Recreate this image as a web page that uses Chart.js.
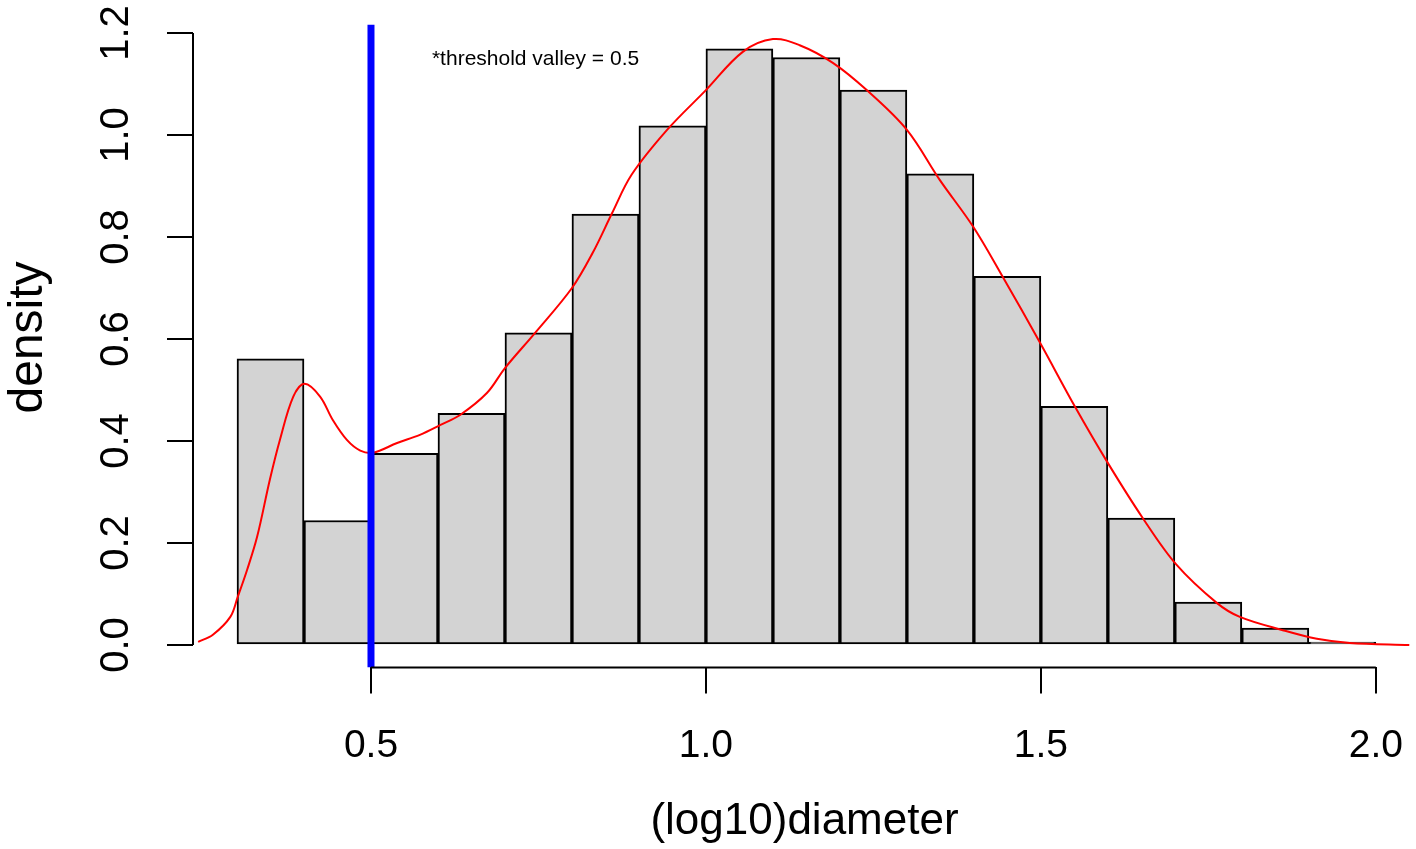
<!DOCTYPE html>
<html>
<head>
<meta charset="utf-8">
<script src="https://cdn.jsdelivr.net/npm/chart.js@4/dist/chart.umd.min.js"></script>
<style>
  html, body { margin: 0; padding: 0; background: #fff; }
  #wrap { width: 1416px; height: 849px; }
</style>
</head>
<body>
<div id="wrap"><canvas id="histChart"></canvas></div>
<script>
// Histogram bins (mid points, width 0.1) and their density
const binMids   = [0.35, 0.45, 0.55, 0.65, 0.75, 0.85, 0.95, 1.05, 1.15, 1.25, 1.35, 1.45, 1.55, 1.65, 1.75, 1.85, 1.95];
const densities = [0.561, 0.244, 0.376, 0.454, 0.612, 0.845, 1.018, 1.169, 1.152, 1.088, 0.924, 0.723, 0.468, 0.249, 0.084, 0.033, 0.004];

// Kernel density curve
const kdeX = [0.242, 0.264, 0.290, 0.301, 0.315, 0.330, 0.349, 0.364, 0.384, 0.401, 0.424, 0.443, 0.464, 0.484, 0.503,
              0.539, 0.573, 0.603, 0.633, 0.673, 0.700, 0.745, 0.800, 0.831, 0.860, 0.889, 0.942, 1.000, 1.055, 1.100,
              1.140, 1.190, 1.240, 1.300, 1.349, 1.399, 1.443, 1.499, 1.551, 1.599, 1.652, 1.702, 1.763, 1.797, 1.861,
              1.912, 1.961, 2.050];
const kdeY = [0.006, 0.020, 0.055, 0.094, 0.147, 0.212, 0.324, 0.402, 0.487, 0.512, 0.487, 0.441, 0.402, 0.381, 0.377,
              0.396, 0.412, 0.431, 0.451, 0.494, 0.543, 0.612, 0.700, 0.769, 0.847, 0.922, 1.010, 1.088, 1.163, 1.188,
              1.176, 1.141, 1.088, 1.010, 0.912, 0.820, 0.722, 0.592, 0.467, 0.359, 0.249, 0.158, 0.082, 0.055, 0.029,
              0.012, 0.004, 0.000];

// Threshold marker
const thresholdX   = 0.5;
const thresholdY   = [-0.044, 1.216];
const thresholdTxt = '*threshold valley = 0.5';

// Tick labels
const xTicks = [0.5, 1.0, 1.5, 2.0];
const yTicks = [0.0, 0.2, 0.4, 0.6, 0.8, 1.0, 1.2];

const fontFamily = '"Liberation Sans", Arial, Helvetica, sans-serif';

// R-style detached axis lines + the note text
const rAxes = {
    id: 'rAxes',
    afterDraw(chart) {
        const { ctx, chartArea, scales: { x, y } } = chart;
        ctx.save();
        ctx.strokeStyle = '#000';
        ctx.lineWidth = 2;
        ctx.beginPath();
        ctx.moveTo(chartArea.left, y.getPixelForValue(yTicks[0]));
        ctx.lineTo(chartArea.left, y.getPixelForValue(yTicks[yTicks.length - 1]));
        ctx.moveTo(x.getPixelForValue(xTicks[0]), chartArea.bottom);
        ctx.lineTo(x.getPixelForValue(xTicks[xTicks.length - 1]), chartArea.bottom);
        ctx.stroke();

        ctx.fillStyle = '#000';
        ctx.font = '21px ' + fontFamily;
        ctx.textAlign = 'left';
        ctx.textBaseline = 'middle';
        ctx.fillText(thresholdTxt, x.getPixelForValue(0.591), y.getPixelForValue(1.149));
        ctx.restore();
    }
};

new Chart(document.getElementById('histChart'), {
    type: 'bar',
    data: {
        datasets: [
            {
                type: 'line',
                label: 'threshold',
                data: thresholdY.map(v => ({ x: thresholdX, y: v })),
                borderColor: '#0000FF',
                borderWidth: 7,
                pointRadius: 0,
                order: 0
            },
            {
                type: 'line',
                label: 'density curve',
                data: kdeX.map((v, i) => ({ x: v, y: kdeY[i] })),
                borderColor: '#FF0000',
                borderWidth: 2,
                pointRadius: 0,
                tension: 0.35,
                order: 1
            },
            {
                label: 'histogram',
                data: binMids.map((v, i) => ({ x: v, y: densities[i] })),
                backgroundColor: '#D3D3D3',
                borderColor: '#000',
                borderWidth: 2,
                borderSkipped: false,
                minBarLength: 3,
                barPercentage: 1,
                categoryPercentage: 1,
                order: 2
            }
        ]
    },
    options: {
        responsive: true,
        maintainAspectRatio: false,
        animation: false,
        layout: { padding: { top: 7.5, right: 0, bottom: 0, left: 0 } },
        plugins: {
            legend: { display: false },
            tooltip: { enabled: false }
        },
        scales: {
            x: {
                type: 'linear',
                min: 0.2343,
                max: 2.06,
                offset: false,
                afterFit: s => { s.height = 181.6; s.paddingLeft = 0; s.paddingRight = 0; },
                afterBuildTicks: s => { s.ticks = xTicks.map(v => ({ value: v })); },
                border: { display: false },
                grid: { offset: false, drawOnChartArea: false, drawTicks: true, tickLength: 26, color: '#000', lineWidth: 2 },
                ticks: {
                    color: '#000',
                    font: { family: fontFamily, size: 39 },
                    padding: 29,
                    maxRotation: 0,
                    callback: v => v.toFixed(1)
                },
                title: {
                    display: true,
                    text: '(log10)diameter',
                    color: '#000',
                    font: { family: fontFamily, size: 44 },
                    padding: { top: 0, bottom: 1 }
                }
            },
            y: {
                min: -0.044,
                max: 1.25,
                afterFit: s => { s.width = 193; s.paddingTop = 0; s.paddingBottom = 0; },
                afterBuildTicks: s => { s.ticks = yTicks.map(v => ({ value: v })); },
                border: { display: false },
                grid: { drawOnChartArea: false, drawTicks: true, tickLength: 26, color: '#000', lineWidth: 2 },
                ticks: {
                    color: '#000',
                    font: { family: fontFamily, size: 40 },
                    padding: 22,
                    minRotation: 90,
                    maxRotation: 90,
                    crossAlign: 'center',
                    callback: v => v.toFixed(1)
                },
                title: {
                    display: true,
                    text: 'density',
                    color: '#000',
                    font: { family: fontFamily, size: 48 },
                    padding: { top: 0, bottom: 0 }
                }
            }
        }
    },
    plugins: [rAxes]
});
</script>
</body>
</html>
